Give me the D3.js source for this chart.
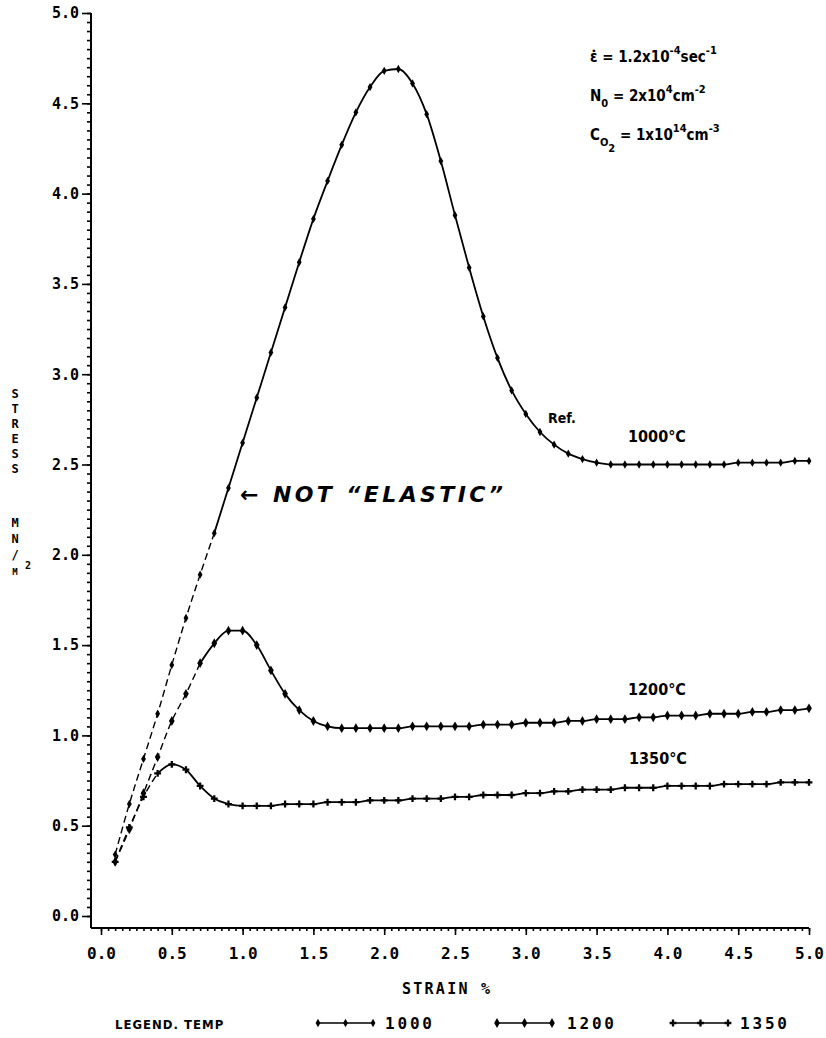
<!DOCTYPE html>
<html>
<head>
<meta charset="utf-8">
<script src="https://cdn.jsdelivr.net/npm/d3@7"></script>
<style>
  body { margin: 0; background: #fff; }
  svg { display: block; }
  .mono { font-family: "DejaVu Sans Mono", monospace; font-weight: bold; }
  .cond { font-family: "DejaVu Sans Condensed", "DejaVu Sans", sans-serif; font-weight: bold; }
</style>
</head>
<body>
<script>
// strain (%) at which every curve was plotted
var strain = [0.1,0.2,0.3,0.4,0.5,0.6,0.7,0.8,0.9,1.0,
              1.1,1.2,1.3,1.4,1.5,1.6,1.7,1.8,1.9,2.0,
              2.1,2.2,2.3,2.4,2.5,2.6,2.7,2.8,2.9,3.0,
              3.1,3.2,3.3,3.4,3.5,3.6,3.7,3.8,3.9,4.0,
              4.1,4.2,4.3,4.4,4.5,4.6,4.7,4.8,4.9,5.0];

// stress MN/m2
var stress1000 = [0.34,0.62,0.87,1.12,1.39,1.65,1.89,2.12,2.37,2.62,
                  2.87,3.12,3.37,3.62,3.86,4.07,4.27,4.45,4.59,4.68,
                  4.69,4.61,4.44,4.18,3.88,3.59,3.32,3.09,2.91,2.78,
                  2.68,2.61,2.56,2.53,2.51,2.50,2.50,2.50,2.50,2.50,
                  2.50,2.50,2.50,2.50,2.51,2.51,2.51,2.51,2.52,2.52];
var stress1200 = [0.30,0.48,0.68,0.88,1.08,1.23,1.40,1.51,1.58,1.58,
                  1.50,1.36,1.23,1.14,1.08,1.05,1.04,1.04,1.04,1.04,
                  1.04,1.05,1.05,1.05,1.05,1.05,1.06,1.06,1.06,1.07,
                  1.07,1.07,1.08,1.08,1.09,1.09,1.09,1.10,1.10,1.11,
                  1.11,1.11,1.12,1.12,1.12,1.13,1.13,1.14,1.14,1.15];
var stress1350 = [0.30,0.49,0.66,0.79,0.84,0.81,0.72,0.65,0.62,0.61,
                  0.61,0.61,0.62,0.62,0.62,0.63,0.63,0.63,0.64,0.64,
                  0.64,0.65,0.65,0.65,0.66,0.66,0.67,0.67,0.67,0.68,
                  0.68,0.69,0.69,0.70,0.70,0.70,0.71,0.71,0.71,0.72,
                  0.72,0.72,0.72,0.73,0.73,0.73,0.73,0.74,0.74,0.74];

var yTicks = [0,0.5,1,1.5,2,2.5,3,3.5,4,4.5,5];
var yTickLabels = ["0.0","0.5","1.0","1.5","2.0","2.5","3.0","3.5","4.0","4.5","5.0"];
var xTicks = [0,0.5,1,1.5,2,2.5,3,3.5,4,4.5,5];
var xTickLabels = ["0.0","0.5","1.0","1.5","2.0","2.5","3.0","3.5","4.0","4.5","5.0"];
var legendTemps = ["1000","1200","1350"];
var curveLabels = ["1000°C","1200°C","1350°C"];

var W = 826, H = 1038;

var svg = d3.select("body").append("svg")
    .attr("width", W)
    .attr("height", H);

svg.append("rect").attr("width", W).attr("height", H).attr("fill", "#fff");

var x = d3.scaleLinear().domain([0, 5]).range([101, 809]);
var y = d3.scaleLinear().domain([0, 5]).range([916, 13]);

var axisX0 = 91, axisY0 = 928;

// axis lines (old plotter style: they meet below/left of the zero ticks)
svg.append("line")
    .attr("x1", axisX0).attr("y1", y(5))
    .attr("x2", axisX0).attr("y2", axisY0)
    .attr("stroke", "#000").attr("stroke-width", 2);
svg.append("line")
    .attr("x1", axisX0).attr("y1", axisY0)
    .attr("x2", x(5)).attr("y2", axisY0)
    .attr("stroke", "#000").attr("stroke-width", 2);

function styleAxis(g) {
  g.select(".domain").remove();
  g.selectAll("line").attr("stroke", "#000").attr("stroke-width", 1.6);
}

// y axis
svg.append("g")
    .attr("transform", "translate(" + axisX0 + ",0)")
    .call(d3.axisLeft(y).tickValues(d3.range(0, 5.001, 0.05)).tickSize(4).tickFormat(""))
    .call(styleAxis);
svg.append("g")
    .attr("transform", "translate(" + axisX0 + ",0)")
    .call(d3.axisLeft(y).tickValues(yTicks).tickSize(9).tickPadding(3)
          .tickFormat(function(d, i) { return yTickLabels[i]; }))
    .call(styleAxis)
    .selectAll("text")
      .attr("class", "mono")
      .attr("font-size", 15)
      .attr("fill", "#000");

// x axis
svg.append("g")
    .attr("transform", "translate(0," + axisY0 + ")")
    .call(d3.axisBottom(x).tickValues(d3.range(0, 5.001, 0.05)).tickSize(3).tickFormat(""))
    .call(styleAxis);
svg.append("g")
    .attr("transform", "translate(0," + axisY0 + ")")
    .call(d3.axisBottom(x).tickValues(xTicks).tickSize(7).tickPadding(13)
          .tickFormat(function(d, i) { return xTickLabels[i]; }))
    .call(styleAxis)
    .selectAll("text")
      .attr("class", "mono")
      .attr("font-size", 16)
      .attr("fill", "#000");

// axis titles
svg.append("text")
    .attr("class", "mono")
    .attr("x", 446).attr("y", 994)
    .attr("text-anchor", "middle")
    .attr("font-size", 15)
    .attr("textLength", 88)
    .text("STRAIN %");

var stressLetters = ["S","T","R","E","S","S"];
svg.append("g").selectAll("text")
    .data(stressLetters)
    .enter().append("text")
    .attr("class", "mono")
    .attr("x", 15)
    .attr("y", function(d, i) { return 398 + i * 15; })
    .attr("text-anchor", "middle")
    .attr("font-size", 12)
    .text(function(d) { return d; });

var unitLetters = ["M","N","/","M"];
svg.append("g").selectAll("text")
    .data(unitLetters)
    .enter().append("text")
    .attr("class", "mono")
    .attr("x", 15)
    .attr("y", function(d, i) { return 527 + i * 16; })
    .attr("text-anchor", "middle")
    .attr("font-size", function(d, i) { return i == 3 ? 9 : 12; })
    .text(function(d) { return d; });
svg.append("text")
    .attr("class", "mono")
    .attr("x", 25).attr("y", 569)
    .attr("font-size", 10)
    .text("2");

// series
var series = [
  { values: stress1000, symbol: d3.symbolDiamond, size: 20, dashUntil: 0.8 },
  { values: stress1200, symbol: d3.symbolDiamond, size: 28, dashUntil: 0.7 },
  { values: stress1350, symbol: d3.symbolCross,   size: 26, dashUntil: 0.4 }
];

var line = d3.line()
    .x(function(d) { return x(d[0]); })
    .y(function(d) { return y(d[1]); })
    .curve(d3.curveMonotoneX);

series.forEach(function(s, si) {
  var pts = strain.map(function(v, i) { return [v, s.values[i]]; });
  var dashed = pts.filter(function(p) { return p[0] <= s.dashUntil + 1e-9; });
  var solid = pts.filter(function(p) { return p[0] >= s.dashUntil - 1e-9; });

  svg.append("path")
      .attr("d", line(dashed))
      .attr("fill", "none")
      .attr("stroke", "#000")
      .attr("stroke-width", 1.4)
      .attr("stroke-dasharray", "7,4");
  svg.append("path")
      .attr("d", line(solid))
      .attr("fill", "none")
      .attr("stroke", "#000")
      .attr("stroke-width", 1.8);

  svg.append("g").selectAll("path")
      .data(pts)
      .enter().append("path")
      .attr("transform", function(d) { return "translate(" + x(d[0]) + "," + y(d[1]) + ")"; })
      .attr("d", d3.symbol().type(s.symbol).size(s.size))
      .attr("fill", "#000");
});

// curve labels
var labelPos = [[657, 442], [657, 695], [658, 764]];
svg.append("g").selectAll("text")
    .data(curveLabels)
    .enter().append("text")
    .attr("class", "cond")
    .attr("x", function(d, i) { return labelPos[i][0]; })
    .attr("y", function(d, i) { return labelPos[i][1]; })
    .attr("text-anchor", "middle")
    .attr("font-size", 16)
    .text(function(d) { return d; });

svg.append("text")
    .attr("class", "cond")
    .attr("x", 548).attr("y", 423)
    .attr("font-size", 14)
    .text("Ref.");

// handwritten note
svg.append("text")
    .attr("x", 240).attr("y", 502)
    .attr("font-family", "DejaVu Sans, sans-serif")
    .attr("font-style", "italic")
    .attr("font-weight", "bold")
    .attr("font-size", 22)
    .attr("textLength", 263)
    .attr("lengthAdjust", "spacing")
    .text("← NOT \u201CELASTIC\u201D");

// run conditions, top right
var cond = svg.append("g").attr("class", "cond").attr("font-size", 15);

var t1 = cond.append("text").attr("x", 590).attr("y", 62);
t1.append("tspan").text("\u03B5\u0307 = 1.2x10");
t1.append("tspan").attr("dy", -8).attr("font-size", 11).text("-4");
t1.append("tspan").attr("dy", 8).text("sec");
t1.append("tspan").attr("dy", -8).attr("font-size", 11).text("-1");

var t2 = cond.append("text").attr("x", 590).attr("y", 101);
t2.append("tspan").text("N");
t2.append("tspan").attr("dy", 6).attr("font-size", 11).text("0");
t2.append("tspan").attr("dy", -6).text(" = 2x10");
t2.append("tspan").attr("dy", -8).attr("font-size", 11).text("4");
t2.append("tspan").attr("dy", 8).text("cm");
t2.append("tspan").attr("dy", -8).attr("font-size", 11).text("-2");

var t3 = cond.append("text").attr("x", 590).attr("y", 140);
t3.append("tspan").text("C");
t3.append("tspan").attr("dy", 6).attr("font-size", 11).text("O");
t3.append("tspan").attr("dy", 6).attr("font-size", 11).text("2");
t3.append("tspan").attr("dy", -12).text("  = 1x10");
t3.append("tspan").attr("dy", -8).attr("font-size", 11).text("14");
t3.append("tspan").attr("dy", 8).text("cm");
t3.append("tspan").attr("dy", -8).attr("font-size", 11).text("-3");

// legend
var legendY = 1023;
svg.append("text")
    .attr("class", "cond")
    .attr("x", 115).attr("y", legendY + 6)
    .attr("font-size", 13)
    .attr("letter-spacing", 1)
    .text("LEGEND. TEMP");

var legendLineX = [318, 497, 673];
var legendTextX = [385, 567, 740];
legendTemps.forEach(function(t, i) {
  var x1 = legendLineX[i], x2 = x1 + 55;
  var g = svg.append("g");
  g.append("line")
      .attr("x1", x1).attr("y1", legendY)
      .attr("x2", x2).attr("y2", legendY)
      .attr("stroke", "#000").attr("stroke-width", 1.6);
  g.selectAll("path")
      .data([x1, (x1 + x2) / 2, x2])
      .enter().append("path")
      .attr("transform", function(d) { return "translate(" + d + "," + legendY + ")"; })
      .attr("d", d3.symbol().type(series[i].symbol).size(series[i].size))
      .attr("fill", "#000");
  g.append("text")
      .attr("class", "mono")
      .attr("x", legendTextX[i]).attr("y", legendY + 6)
      .attr("font-size", 16)
      .attr("textLength", 47)
      .text(t);
});
</script>
</body>
</html>
